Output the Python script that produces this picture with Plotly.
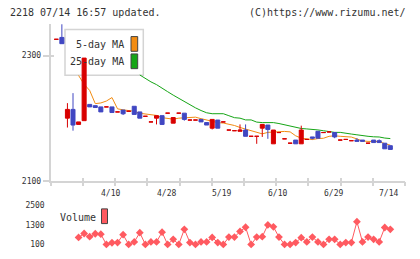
import plotly.graph_objects as go

# ---------------- data ----------------
opens  = [2326, 2329, 2200, 2214, 2190, 2196, 2222, 2220, 2218, 2218,
          2218, 2210, 2213, 2211, 2219, 2210, 2203, 2194, 2200, 2204,
          2208, 2192, 2208, 2208, 2197, 2197, 2198, 2193, 2184, 2197,
          2194, 2181, 2180, 2179, 2181, 2171, 2171, 2184, 2189, 2159,
          2177, 2167, 2160, 2165, 2159, 2166, 2170, 2179, 2177, 2178,
          2177, 2165, 2166, 2164, 2165, 2165, 2160, 2165, 2164, 2160, 2156]
highs  = [2326, 2350, 2224, 2240, 2194, 2296, 2222, 2220, 2218, 2218,
          2218, 2210, 2213, 2211, 2219, 2210, 2203, 2194, 2204, 2204,
          2208, 2201, 2208, 2208, 2197, 2197, 2198, 2193, 2198, 2197,
          2194, 2181, 2180, 2190, 2190, 2171, 2171, 2190, 2189, 2181,
          2177, 2167, 2160, 2165, 2188, 2166, 2170, 2179, 2177, 2178,
          2177, 2165, 2166, 2164, 2168, 2165, 2160, 2165, 2166, 2160, 2156]
lows   = [2326, 2319, 2185, 2180, 2190, 2196, 2218, 2217, 2210, 2218,
          2209, 2210, 2205, 2211, 2206, 2200, 2203, 2194, 2190, 2189,
          2208, 2192, 2208, 2196, 2197, 2197, 2194, 2189, 2182, 2184,
          2194, 2181, 2180, 2179, 2171, 2171, 2159, 2170, 2167, 2159,
          2177, 2167, 2160, 2159, 2159, 2166, 2166, 2168, 2177, 2178,
          2168, 2165, 2166, 2164, 2163, 2163, 2160, 2161, 2161, 2151, 2150]
closes = [2326, 2319, 2214, 2189, 2194, 2296, 2218, 2217, 2210, 2218,
          2209, 2210, 2207, 2211, 2206, 2200, 2203, 2194, 2204, 2190,
          2208, 2201, 2208, 2198, 2197, 2197, 2194, 2189, 2198, 2184,
          2194, 2181, 2180, 2181, 2171, 2171, 2171, 2190, 2182, 2181,
          2177, 2167, 2160, 2159, 2181, 2166, 2168, 2168, 2177, 2178,
          2170, 2165, 2166, 2164, 2163, 2163, 2160, 2161, 2161, 2151, 2150]

ma5 = [None] * 4 + [
    2268.2, 2254.1, 2244.2, 2223.2, 2224.3, 2227.4, 2232.9, 2214.9, 2213.3, 2211.8,
    2211.0, 2207.8, 2206.3, 2205.5, 2204.4, 2200.8, 2199.2, 2198.4, 2200.0, 2200.8,
    2201.6, 2201.6, 2199.2, 2196.9, 2194.5, 2192.9, 2192.2, 2190.3, 2188.3, 2185.1,
    2182.4, 2180.4, 2176.5, 2174.9, 2177.3, 2178.1, 2178.8, 2178.8, 2178.1, 2171.8,
    2167.9, 2166.8, 2165.8, 2167.4, 2167.9, 2171.0, 2171.8, 2171.0, 2170.5, 2169.8,
    2166.8, 2163.6, 2162.9, 2162.7, 2162.7, 2159.2, 2156.9]

ma25 = [None] * 15 + [
    2269.0, 2263.2, 2258.0, 2253.6, 2248.6, 2242.3, 2236.8, 2231.8, 2226.6, 2220.7,
    2216.5, 2212.2, 2208.6, 2207.1, 2207.1, 2207.1, 2203.9, 2200.8, 2200.0, 2197.2,
    2197.2, 2193.7, 2192.9, 2192.9, 2192.9, 2191.4, 2189.3, 2187.8, 2186.2, 2183.5,
    2182.8, 2182.4, 2181.2, 2179.9, 2178.1, 2177.3, 2177.3, 2175.4, 2174.6, 2173.4,
    2171.8, 2171.0, 2170.2, 2169.9, 2168.2, 2167.4]

volume = [None] * 4 + [
    520, 760, 565, 745, 720, 85, 190, 200, 685, 85,
    240, 810, 85, 240, 240, 840, 85, 400, 90, 1020,
    200, 85, 240, 240, 520, 200, 85, 540, 540, 885,
    1145, 85, 540, 565, 1290, 1170, 540, 85, 85, 200,
    505, 240, 540, 240, 85, 400, 400, 85, 200, 200,
    1490, 240, 540, 400, 240, 1130, 1020]

label_idx = [10, 20, 30, 40, 50, 60]
label_text = ["4/10", "4/28", "5/19", "6/10", "6/29", "7/14"]
price_ticks = [2100, 2300]
vol_ticks = [100, 1300, 2500]

# ---------------- styling ----------------
W, H = 420, 259
RED, BLUE = "#d80000", "#4047c2"
ORANGE, GREEN, VOLC = "#f28c12", "#16a516", "#ff5a60"
AXIS, TXT = "#d4d4d4", "#333333"
MONO = "DejaVu Sans Mono"


def fx(p):
    return p / W


def fy(p):
    return 1 - p / H


XR = [-1.006, 62.637]
YR = [2100, 2351.2]
VR = [-260, 2818]
xdom = [fx(50.7), fx(405)]
ydom = [fy(184.3), fy(24)]
vdom = [fy(255), fy(204)]
divs = [XR[0] + k * (XR[1] - XR[0]) / 11 for k in range(12)]

idx = list(range(len(opens)))
is_up = [c >= o for o, c in zip(opens, closes)]


def pick(vals, flag):
    return [v if u == flag else None for v, u in zip(vals, is_up)]


fig = go.Figure()
fig.add_trace(go.Scatter(x=idx, y=ma5, mode="lines", line=dict(color=ORANGE, width=1),
                         xaxis="x", yaxis="y", showlegend=False, hoverinfo="skip"))
fig.add_trace(go.Scatter(x=idx, y=ma25, mode="lines", line=dict(color=GREEN, width=1),
                         xaxis="x", yaxis="y", showlegend=False, hoverinfo="skip"))
for flag, col in ((True, RED), (False, BLUE)):
    fig.add_trace(go.Candlestick(
        x=idx, open=pick(opens, flag), high=pick(highs, flag),
        low=pick(lows, flag), close=pick(closes, flag),
        increasing=dict(line=dict(color=col, width=1), fillcolor=col),
        decreasing=dict(line=dict(color=col, width=1), fillcolor=col),
        whiskerwidth=0, xaxis="x3", yaxis="y3", showlegend=False))
fig.add_trace(go.Scatter(x=idx, y=volume, mode="lines+markers",
                         line=dict(color=VOLC, width=1),
                         marker=dict(symbol="diamond", size=6, color=VOLC),
                         xaxis="x2", yaxis="y2", showlegend=False))

tickfont = dict(family=MONO, size=8, color=TXT)
noaxis = dict(showgrid=False, zeroline=False)
fig.update_layout(
    width=W, height=H, margin=dict(l=0, r=0, t=0, b=0),
    paper_bgcolor="white", plot_bgcolor="white",
    boxgap=0.15, boxgroupgap=0.15,
    xaxis=dict(domain=xdom, range=XR, anchor="y", showline=True, linecolor=AXIS,
               linewidth=1.5, ticks="outside", ticklen=4, tickwidth=1.5, tickcolor=AXIS,
               tickvals=divs, showticklabels=False, **noaxis),
    yaxis=dict(domain=ydom, range=YR, anchor="x", showline=True, linecolor=AXIS,
               linewidth=2, ticks="outside", ticklen=6, tickwidth=1.5, tickcolor=AXIS,
               tickvals=price_ticks, tickfont=tickfont, **noaxis),
    xaxis3=dict(overlaying="x", anchor="y3", range=XR, ticks="inside", ticklen=3,
                tickwidth=1.5, tickcolor=AXIS, tickvals=divs, showticklabels=False,
                showline=False, rangeslider=dict(visible=False), **noaxis),
    yaxis3=dict(overlaying="y", anchor="x3", range=YR, ticks="inside", ticklen=3,
                tickwidth=1.5, tickcolor=AXIS, tickvals=price_ticks, showticklabels=False,
                showline=False, **noaxis),
    xaxis2=dict(domain=xdom, range=XR, anchor="y2", visible=False),
    yaxis2=dict(domain=vdom, range=VR, anchor="x2", tickvals=vol_ticks, ticks="",
                ticklabelstandoff=5, showline=False, tickfont=tickfont, **noaxis),
    hovermode=False,
)

# legend boxes (drawn beneath the data)
shapes = [
    dict(type="rect", xref="paper", yref="paper", x0=fx(65), x1=fx(143.3), y0=fy(76.7), y1=fy(30),
         fillcolor="white", line=dict(color=AXIS, width=1.5), layer="below"),
    dict(type="rect", xref="paper", yref="paper", x0=fx(131), x1=fx(137.7), y0=fy(52.3), y1=fy(37.3),
         fillcolor=ORANGE, line=dict(color="#444444", width=1), layer="below"),
    dict(type="rect", xref="paper", yref="paper", x0=fx(131), x1=fx(137.7), y0=fy(70), y1=fy(55),
         fillcolor=GREEN, line=dict(color="#444444", width=1), layer="below"),
    dict(type="rect", xref="paper", yref="paper", x0=fx(101.5), x1=fx(107.5), y0=fy(228), y1=fy(213),
         fillcolor=VOLC, line=dict(color="#444444", width=1), layer="below"),
]
fig.update_layout(shapes=shapes)

ann = []
ann.append(dict(text="2218 07/14 16:57 updated.", x=fx(8), y=fy(12.5), xanchor="left"))
ann.append(dict(text="(C)https://www.rizumu.net/", x=fx(408), y=fy(12.5), xanchor="right"))
ann.append(dict(text="5-day MA", x=fx(125.5), y=fy(45.5), xanchor="right"))
ann.append(dict(text="25-day MA", x=fx(125.5), y=fy(62.3), xanchor="right"))
ann.append(dict(text="Volume", x=fx(58), y=fy(222), xanchor="left"))
for a in ann:
    a.update(xref="paper", yref="paper", yanchor="middle", showarrow=False,
             font=dict(family=MONO, size=10, color=TXT))
for i, t in zip(label_idx, label_text):
    ann.append(dict(text=t, x=i, xref="x", y=fy(197.3), yref="paper", xshift=-1.5,
                    xanchor="center", yanchor="middle", showarrow=False, font=tickfont))
fig.update_layout(annotations=ann)

fig.write_html("out.html")
